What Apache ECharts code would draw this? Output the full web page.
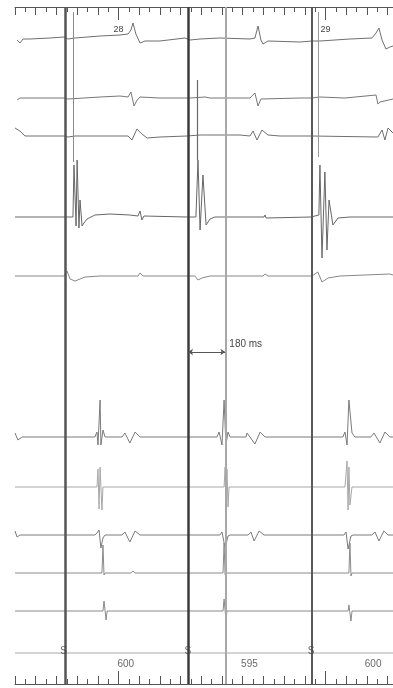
<!DOCTYPE html>
<html>
<head>
<meta charset="utf-8">
<script src="https://cdn.jsdelivr.net/npm/echarts@6/dist/echarts.min.js"></script>
<style>
  html, body { margin: 0; padding: 0; background: #fff; }
  #chart { width: 393px; height: 688px; }
</style>
</head>
<body>
<div id="chart"></div>
<script>
// Time window of the sweep (ms)
const sweepStart = -500;
const sweepEnd = 1326;

// Whole-second marks on the time ruler
const secondTicks = [0, 1000];
const secondLabels = ['28', '29'];

// Pacing stimuli: first stimulus time and the cycle lengths that follow (ms)
const firstStim = -265;
const cycleLengths = [600, 595, 600];

// Reference cursors (ms)
const cursorTimes = [-258, 336, 516, 935];
const caliperStart = 336;
const caliperMs = 180;

// Baseline of each channel (trace units, top to bottom)
const channelBase = [30, 91, 128, 210, 269, 430, 480, 528, 566, 604, 646];

// Channel recordings: [time ms, deflection] (positive = upward)
const ch1 = [[-490,-3],[-476,-6],[-461,-2],[-428,-2],[-331,-1],[-263,0],[-244,-2],[-210,-1],[-89,1],[7,2],[46,3],[60,7],[70,14],[84,3],[104,-6],[128,-4],[200,-4],[321,-1],[345,-3],[394,-2],[490,-1],[635,-2],[659,-1],[674,11],[688,-3],[698,-7],[722,-4],[877,-5],[935,-4],[973,-4],[1118,-2],[1224,-1],[1244,4],[1258,9],[1273,-3],[1292,-12],[1311,-10],[1326,-9]];
const ch2 = [[-490,-2],[-476,0],[-331,0],[-263,0],[-244,-1],[-89,1],[7,2],[46,1],[60,6],[75,-8],[90,-2],[104,1],[200,0],[331,0],[345,0],[418,1],[442,0],[635,0],[659,5],[674,-8],[688,-1],[877,0],[935,0],[973,1],[1094,0],[1244,3],[1253,-6],[1263,-4],[1326,-1]];
const ch3 = [[-500,7],[-476,4],[-452,-1],[-428,-1],[-263,-1],[-244,-2],[-210,-1],[7,-1],[46,-1],[65,-5],[89,6],[113,1],[138,-3],[200,-2],[331,-1],[394,0],[587,0],[635,-1],[650,4],[669,-5],[693,5],[722,0],[780,-1],[935,-1],[1253,-2],[1273,5],[1287,-5],[1302,7],[1326,2]];
const ch4 = [[-500,0],[-263,0],[-220,0],[-215,52],[-205,-9],[-200,57],[-191,-11],[-186,17],[-176,-9],[-167,-6],[-152,-2],[-114,2],[-41,3],[55,2],[94,1],[104,6],[113,-3],[123,1],[331,0],[374,0],[384,57],[394,-13],[408,42],[423,-8],[442,-2],[466,0],[703,0],[708,2],[713,-1],[930,0],[968,2],[973,52],[983,-41],[997,45],[1007,-33],[1017,17],[1032,-3],[1036,-8],[1060,-1],[1118,0],[1326,0]];
const ch5 = [[-500,0],[-263,0],[-249,5],[-234,-3],[-210,-5],[-186,-3],[-162,-1],[-89,0],[94,0],[104,3],[118,0],[331,0],[369,0],[384,-4],[403,-2],[442,0],[698,0],[708,2],[722,0],[935,0],[963,4],[983,-6],[1012,-2],[1070,0],[1311,2],[1326,1]];
const ch6 = [[-500,4],[-486,-3],[-466,0],[-128,0],[-114,0],[-104,5],[-99,-8],[-89,37],[-85,-8],[-75,7],[-65,0],[17,0],[31,4],[55,-6],[80,5],[104,0],[476,0],[486,5],[500,-8],[510,37],[519,-8],[529,5],[539,0],[616,0],[621,4],[659,-7],[684,5],[708,0],[1084,0],[1094,5],[1104,-8],[1113,37],[1128,4],[1142,0],[1219,0],[1234,4],[1263,-6],[1287,5],[1311,0],[1326,0]];
const ch7 = [[-500,0],[-104,0],[-99,18],[-94,-22],[-89,20],[-80,-23],[-75,0],[510,0],[515,20],[519,-30],[524,18],[529,-20],[534,0],[1094,0],[1104,26],[1109,-23],[1113,20],[1118,-18],[1128,0],[1326,0]];
const ch8 = [[-500,4],[-490,-2],[-476,0],[-114,0],[-104,2],[-94,5],[-85,-13],[-75,-3],[-65,0],[17,0],[31,3],[55,-7],[80,4],[104,0],[490,0],[500,3],[515,-13],[529,-1],[539,0],[626,0],[640,3],[655,-6],[679,4],[703,0],[1089,0],[1099,3],[1109,-14],[1123,-1],[1133,0],[1224,0],[1239,3],[1258,-6],[1282,4],[1302,0],[1326,0]];
const ch9 = [[-500,0],[-80,0],[-75,28],[-70,-2],[-65,0],[60,0],[70,2],[80,0],[505,0],[510,30],[515,-2],[520,0],[1113,0],[1118,30],[1123,-3],[1128,0],[1326,0]];
const ch10 = [[-500,0],[-75,0],[-70,10],[-60,-9],[-55,0],[505,0],[510,12],[519,-9],[524,0],[1109,0],[1113,6],[1123,-10],[1128,0],[1326,0]];
const ch11 = [[-500,0],[1326,0]];

const traces = [ch1, ch2, ch3, ch4, ch5, ch6, ch7, ch8, ch9, ch10, ch11];
const traceColor = ['#6f6f6f','#777','#6f6f6f','#666','#888','#7a7a7a','#a8a8a8','#7a7a7a','#8a8a8a','#8a8a8a','#aaa'];

// Stimulus times derived from the cycle lengths
const stimTimes = [firstStim];
cycleLengths.forEach((cl, i) => stimTimes.push(stimTimes[i] + cl));

const FONT = '"Liberation Sans", Arial, sans-serif';
const INK = '#555';

// Each channel is one polyline on the shared time/offset axes
const traceSeries = {
  type: 'lines',
  coordinateSystem: 'cartesian2d',
  xAxisIndex: 0,
  yAxisIndex: 0,
  polyline: true,
  silent: true,
  animation: false,
  z: 3,
  lineStyle: { width: 1, opacity: 1, curveness: 0 },
  data: traces.map((pts, i) => ({
    coords: pts.map(([t, a]) => [t, channelBase[i] - a]),
    lineStyle: { color: traceColor[i], width: 1, opacity: 1 }
  }))
};

const cursorStyle = [
  { color: '#555', width: 2.5 },
  { color: '#3c3c3c', width: 2.5 },
  { color: '#a8a8a8', width: 2 },
  { color: '#5a5a5a', width: 2 }
];

const cursorSeries = {
  type: 'line',
  data: [],
  silent: true,
  animation: false,
  z: 4,
  markLine: {
    silent: true,
    animation: false,
    symbol: ['none', 'none'],
    label: { show: false },
    data: [
      ...cursorTimes.map((t, i) => ({ xAxis: t, lineStyle: Object.assign({ type: 'solid' }, cursorStyle[i]) })),
      [{ coord: [-218, 5], lineStyle: { color: '#8a8a8a', width: 1, type: 'solid' } }, { coord: [-218, 155] }],
      [{ coord: [379, 73], lineStyle: { color: '#6a6a6a', width: 1.2, type: 'solid' } }, { coord: [379, 153] }],
      [{ coord: [964, 5], lineStyle: { color: '#999', width: 1, type: 'solid' } }, { coord: [964, 150] }],
      [
        {
          coord: [caliperStart, 345],
          symbol: 'arrow',
          symbolSize: 5,
          lineStyle: { color: '#555', width: 1, type: 'solid' },
          label: {
            show: true,
            position: 'end',
            distance: 4,
            offset: [0, -8],
            formatter: caliperMs + ' ms',
            fontFamily: FONT,
            fontSize: 10,
            color: '#444'
          }
        },
        { coord: [caliperStart + caliperMs, 345], symbol: 'arrow', symbolSize: 5 }
      ]
    ]
  }
};

const stimSeries = {
  type: 'scatter',
  data: stimTimes.map(t => [t, 644]),
  symbolSize: 1,
  itemStyle: { color: 'rgba(0,0,0,0)' },
  silent: true,
  animation: false,
  z: 5,
  label: { show: true, position: 'inside', formatter: 'S', fontFamily: FONT, fontSize: 10, color: '#444' }
};

const cycleSeries = {
  type: 'scatter',
  data: cycleLengths.map((cl, i) => ({ value: [stimTimes[i] + cl / 2, 657], name: String(cl) })),
  symbolSize: 1,
  itemStyle: { color: 'rgba(0,0,0,0)' },
  silent: true,
  animation: false,
  z: 5,
  label: { show: true, position: 'inside', formatter: '{b}', fontFamily: FONT, fontSize: 10, color: '#444' }
};

function ruler(position, withLabels) {
  return [
    {
      type: 'value', position, min: sweepStart, max: sweepEnd, interval: 100,
      axisLine: { show: true, onZero: false, lineStyle: { color: INK, width: 1 } },
      axisTick: { show: true, inside: true, length: 8, lineStyle: { color: INK, width: 1 } },
      minorTick: { show: true, splitNumber: 2, length: 5, lineStyle: { color: INK, width: 1 } },
      axisLabel: { show: false },
      splitLine: { show: false },
      minorSplitLine: { show: false }
    },
    {
      type: 'value', position, min: sweepStart, max: sweepEnd,
      axisLine: { show: false, onZero: false },
      axisTick: { show: true, inside: true, length: 13, customValues: secondTicks, lineStyle: { color: INK, width: 1 } },
      axisLabel: {
        show: withLabels, inside: true, customValues: secondTicks, margin: 18,
        formatter: v => secondLabels[secondTicks.indexOf(v)] || '',
        fontFamily: FONT, fontSize: 9, color: '#444'
      },
      splitLine: { show: false }
    }
  ];
}

const chart = echarts.init(document.getElementById('chart'), null, { renderer: 'canvas' });
chart.setOption({
  backgroundColor: '#fff',
  animation: false,
  grid: { left: 15, right: 0, top: 7, bottom: 4, containLabel: false },
  xAxis: [...ruler('top', true), ...ruler('bottom', false)],
  yAxis: { type: 'value', min: 0, max: 677, inverse: true, show: false },
  series: [traceSeries, cursorSeries, stimSeries, cycleSeries]
});
</script>
</body>
</html>
